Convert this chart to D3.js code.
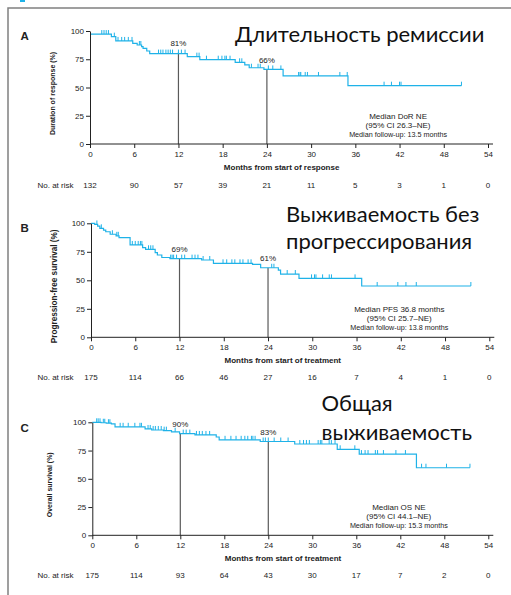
<!DOCTYPE html>
<html>
<head>
<meta charset="utf-8">
<script src="https://cdn.jsdelivr.net/npm/d3@7"></script>
<style>
  html, body { margin: 0; padding: 0; background: #fff; }
  svg { display: block; }
  text { font-family: "Liberation Sans", Arial, sans-serif; fill: #222; }
  .ru { font-family: Lato, "Open Sans", sans-serif; fill: #111; }
</style>
</head>
<body>
<svg id="chart" width="511" height="595"></svg>
<script>
// ---------- Shared axis data ----------
const monthTicks = [0, 6, 12, 18, 24, 30, 36, 42, 48, 54];
const pctTicks = [0, 25, 50, 75, 100];

// ---------- Panel A: duration of response ----------
const aStepTimes  = [0, 2.9, 3.5, 5.8, 6.4, 7.0, 7.2, 7.7, 8.1, 13.2, 14.9, 19.7, 21.0, 21.6, 23.6, 26.2, 35.0];
const aStepValues = [97.3, 95, 91.2, 89, 87.6, 86.1, 84.7, 82.3, 80, 77.3, 74.6, 72.3, 70, 67.5, 66, 60.2, 51.6];
const aEndTime = 50.4;
const aCensored = [1.6, 1.9, 2.2, 2.5, 3.3, 3.8, 4.3, 4.7, 5.2, 5.7, 6.7, 6.9, 9.3, 9.6, 9.9, 10.3, 10.6,
  10.9, 11.2, 12.0, 12.4, 12.9, 14.5, 14.8, 15.8, 17.4, 17.9, 18.3, 18.5, 19.0, 20.3, 20.6, 21.9, 22.8,
  23.1, 24.2, 24.8, 25.9, 28.3, 28.5, 28.6, 29.2, 29.5, 31.0, 33.9, 34.9, 39.9, 40.9, 42.0, 42.2, 50.4];
const aAtRisk = [132, 90, 57, 39, 21, 11, 5, 3, 1, 0];
const aMilestones = [{ t: 12, v: 81 }, { t: 24, v: 66 }];

// ---------- Panel B: progression-free survival ----------
const bStepTimes  = [0, 0.5, 0.9, 1.2, 1.7, 2.0, 2.6, 3.4, 3.8, 5.3, 7.0, 7.4, 8.7, 9.0, 9.6, 10.7,
  15.0, 16.6, 21.9, 23.0, 25.4, 25.7, 28.2, 36.7];
const bStepValues = [100, 99, 97.6, 95.6, 94, 92.6, 90.4, 89, 87.4, 81, 78.6, 77.2, 74.2, 72.2, 70, 69,
  67.8, 64.9, 64, 61, 59, 55.5, 51.7, 45];
const bEndTime = 51.5;
const bCensored = [0.8, 1.4, 2.9, 3.5, 3.7, 5.6, 6.0, 6.4, 6.7, 6.9, 7.8, 8.1, 8.4, 10.8, 11.0, 11.2, 11.6,
  12.3, 12.7, 13.7, 14.1, 14.5, 15.2, 16.1, 17.9, 18.4, 19.1, 19.5, 20.2, 20.6, 21.3, 21.7, 24.5, 24.8,
  26.6, 27.7, 29.9, 30.3, 30.5, 31.4, 32.3, 32.6, 35.8, 38.8, 41.6, 42.7, 44.1, 51.5];
const bAtRisk = [175, 114, 66, 46, 27, 16, 7, 4, 1, 0];
const bMilestones = [{ t: 12, v: 69 }, { t: 24, v: 61 }];

// ---------- Panel C: overall survival ----------
const cStepTimes  = [0, 1.2, 1.9, 2.6, 3.1, 7.2, 8.1, 9.7, 10.8, 11.9, 14.0, 16.9, 17.3, 22.9, 27.6, 33.4, 36.4, 44.2];
const cStepValues = [100, 99.6, 99.2, 98.6, 96, 94.1, 93.2, 92.6, 91.6, 90, 88.8, 87, 84.5, 83, 80.8, 76.1, 71.9, 59.8];
const cEndTime = 51.5;
const cCensored = [0.6, 0.8, 1.05, 1.5, 1.7, 2.2, 2.4, 3.8, 4.2, 4.9, 5.8, 6.5, 6.7, 7.6, 7.9, 8.3, 8.6, 9.0,
  9.4, 9.8, 10.1, 11.3, 12.4, 12.8, 13.3, 14.2, 14.6, 15.0, 15.5, 16.0, 18.1, 18.9, 19.6, 20.3, 20.8, 21.2,
  21.7, 21.9, 22.2, 23.3, 23.6, 24.0, 24.8, 25.7, 26.7, 28.3, 28.8, 29.2, 29.6, 30.8, 31.1, 31.3, 32.3,
  32.6, 33.1, 33.8, 35.8, 36.7, 37.2, 37.6, 38.6, 38.9, 39.7, 41.4, 42.7, 44.9, 45.5, 48.3, 51.5];
const cAtRisk = [175, 114, 93, 64, 43, 30, 17, 7, 2, 0];
const cMilestones = [{ t: 12, v: 90 }, { t: 24, v: 83 }];

// ---------- Panel layout and texts ----------
const panels = [
  {
    letter: "A", times: aStepTimes, values: aStepValues, end: aEndTime, censored: aCensored,
    atRisk: aAtRisk, milestones: aMilestones,
    x0: 90, x1: 488, yBottom: 144, yTop: 31,
    yTitle: "Duration of response (%)", yTitleX: 55, yTitleSize: 7,
    xTitle: "Months from start of response",
    notes: ["Median DoR NE", "(95% CI 26.3\u2013NE)", "Median follow-up: 13.5 months"],
    riskY: 188, letterY: 40,
    heading: ["\u0414\u043b\u0438\u0442\u0435\u043b\u044c\u043d\u043e\u0441\u0442\u044c \u0440\u0435\u043c\u0438\u0441\u0441\u0438\u0438"],
    headingX: 235, headingY: [41.5]
  },
  {
    letter: "B", times: bStepTimes, values: bStepValues, end: bEndTime, censored: bCensored,
    atRisk: bAtRisk, milestones: bMilestones,
    x0: 91, x1: 489.3, yBottom: 337.3, yTop: 223.3,
    yTitle: "Progression-free survival (%)", yTitleX: 57, yTitleSize: 8.2,
    xTitle: "Months from start of treatment",
    notes: ["Median PFS 36.8 months", "(95% CI 25.7\u2013NE)", "Median follow-up: 13.8 months"],
    riskY: 379.5, letterY: 232,
    heading: ["\u0412\u044b\u0436\u0438\u0432\u0430\u0435\u043c\u043e\u0441\u0442\u044c \u0431\u0435\u0437",
              "\u043f\u0440\u043e\u0433\u0440\u0435\u0441\u0441\u0438\u0440\u043e\u0432\u0430\u043d\u0438\u044f"],
    headingX: 286, headingY: [221.5, 249.3]
  },
  {
    letter: "C", times: cStepTimes, values: cStepValues, end: cEndTime, censored: cCensored,
    atRisk: cAtRisk, milestones: cMilestones,
    x0: 92.3, x1: 488.3, yBottom: 535.3, yTop: 422.3,
    yTitle: "Overall survival (%)", yTitleX: 52, yTitleSize: 7,
    xTitle: "Months from start of treatment",
    notes: ["Median OS NE", "(95% CI 44.1\u2013NE)", "Median follow-up: 15.3 months"],
    riskY: 578, letterY: 431.5,
    heading: ["\u041e\u0431\u0449\u0430\u044f",
              "\u0432\u044b\u0436\u0438\u0432\u0430\u0435\u043c\u043e\u0441\u0442\u044c"],
    headingX: 321.5, headingY: [410.5, 440]
  }
];

const CURVE = "#1fb2e8";
const svg = d3.select("#chart");

// Page frame (left and top rules) and a small corner marker
svg.append("rect").attr("x", 0).attr("y", 0).attr("width", 511).attr("height", 595).attr("fill", "#fff");
svg.append("path").attr("d", "M8,595 V8 H511").attr("fill", "none").attr("stroke", "#808080").attr("stroke-width", 1.5);
svg.append("rect").attr("x", 20).attr("y", 0).attr("width", 5).attr("height", 2).attr("fill", CURVE);

panels.forEach(p => {
  const g = svg.append("g");
  const x = d3.scaleLinear().domain([0, 54]).range([p.x0, p.x1]);
  const y = d3.scaleLinear().domain([0, 100]).range([p.yBottom, p.yTop]);

  // Step function lookup for the KM estimate
  const valueAt = t => p.values[Math.max(0, d3.bisectRight(p.times, t) - 1)];

  // Milestone reference lines (12 and 24 months)
  p.milestones.forEach(m => {
    g.append("line")
      .attr("x1", x(m.t)).attr("x2", x(m.t))
      .attr("y1", y(0)).attr("y2", y(m.v))
      .attr("stroke", "#5a5a5a").attr("stroke-width", 1.2);
    g.append("text")
      .attr("x", x(m.t)).attr("y", y(m.v) - 6.5)
      .attr("text-anchor", "middle").attr("font-size", 8)
      .text(m.v + "%");
  });

  // Kaplan–Meier curve
  const pts = p.times.map((t, i) => [t, p.values[i]]);
  pts.push([p.end, p.values[p.values.length - 1]]);
  g.append("path")
    .datum(pts)
    .attr("fill", "none")
    .attr("stroke", CURVE).attr("stroke-width", 1.2)
    .attr("d", d3.line().x(d => x(d[0])).y(d => y(d[1])).curve(d3.curveStepAfter));

  // Censoring marks
  g.selectAll(".cens")
    .data(p.censored)
    .join("line")
    .attr("x1", d => x(d)).attr("x2", d => x(d))
    .attr("y1", d => y(valueAt(d))).attr("y2", d => y(valueAt(d)) - 4)
    .attr("stroke", CURVE).attr("stroke-width", 1);

  // Y axis
  const ya = g.append("g").attr("transform", `translate(${p.x0},0)`)
    .call(d3.axisLeft(y).tickValues(pctTicks).tickSize(4).tickSizeOuter(0).tickPadding(2));
  ya.select(".domain").attr("stroke", "#222");
  ya.selectAll(".tick line").attr("stroke", "#222");
  ya.selectAll(".tick text").attr("font-size", 8).attr("fill", "#222")
    .attr("font-family", '"Liberation Sans", Arial, sans-serif');

  // X axis
  const xa = g.append("g").attr("transform", `translate(0,${p.yBottom})`)
    .call(d3.axisBottom(x).tickValues(monthTicks).tickSize(4).tickPadding(3));
  xa.select(".domain").remove();
  xa.selectAll(".tick line").attr("stroke", "#222");
  xa.selectAll(".tick text").attr("font-size", 8).attr("fill", "#222")
    .attr("font-family", '"Liberation Sans", Arial, sans-serif');
  g.append("line")
    .attr("x1", x(0)).attr("x2", x(54) + 5)
    .attr("y1", p.yBottom).attr("y2", p.yBottom)
    .attr("stroke", "#222").attr("stroke-width", 1);

  // Axis titles
  g.append("text")
    .attr("x", x(26)).attr("y", p.yBottom + 25.5)
    .attr("text-anchor", "middle").attr("font-size", 8).attr("font-weight", "bold")
    .text(p.xTitle);
  g.append("text")
    .attr("transform", `translate(${p.yTitleX},${(p.yTop + p.yBottom) / 2 + 6}) rotate(-90)`)
    .attr("text-anchor", "middle").attr("font-size", p.yTitleSize).attr("font-weight", "bold")
    .text(p.yTitle);

  // Panel letter
  g.append("text")
    .attr("x", 20.5).attr("y", p.letterY)
    .attr("font-size", 11.5).attr("font-weight", "bold")
    .text(p.letter);

  // Median annotation
  const noteSizes = [8, 8, 7.2];
  const noteOffsets = [25.5, 16.5, 7.3];
  p.notes.forEach((s, i) => {
    g.append("text")
      .attr("x", x(41.8)).attr("y", p.yBottom - noteOffsets[i])
      .attr("text-anchor", "middle").attr("font-size", noteSizes[i])
      .text(s);
  });

  // Numbers at risk
  g.append("text")
    .attr("x", 37.5).attr("y", p.riskY)
    .attr("font-size", 8)
    .text("No. at risk");
  g.selectAll(".risk")
    .data(p.atRisk)
    .join("text")
    .attr("x", (d, i) => x(monthTicks[i])).attr("y", p.riskY)
    .attr("text-anchor", "middle").attr("font-size", 8)
    .text(d => d);

  // Russian heading
  p.heading.forEach((s, i) => {
    g.append("text")
      .attr("class", "ru")
      .attr("x", p.headingX).attr("y", p.headingY[i])
      .attr("font-size", 22)
      .text(s);
  });
});
</script>
</body>
</html>
